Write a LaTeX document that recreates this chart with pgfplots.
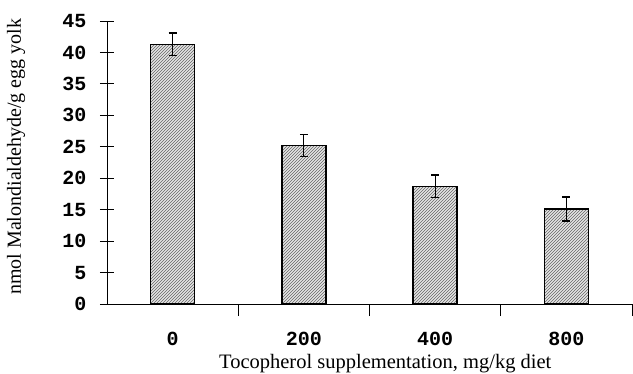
\documentclass[border=0pt]{standalone}
\usepackage{fontspec}
\setmainfont{Liberation Serif}
\newfontfamily\monofont{Liberation Mono}
\usepackage{pgfplots}
\pgfplotsset{compat=1.18}
\usetikzlibrary{patterns}
\begin{document}
\begin{tikzpicture}
\begin{axis}[
  scale only axis,
  width=525pt, height=283pt,
  xmin=-0.5, xmax=3.5,
  ymin=0, ymax=45,
  axis x line=bottom, axis y line=left,
  axis line style={-, line width=0.9pt},
  ytick={0,5,...,45},
  xtick={0,1,2,3},
  xticklabels={0,200,400,800},
  tick align=center,
  major tick length=14pt,
  x tick style={draw=none},
  y tick style={line width=0.8pt, black},
  extra x ticks={0.5,1.5,2.5,3.5},
  extra x tick labels={},
  extra x tick style={x tick style={draw=black, line width=0.8pt}, major tick length=12pt},
  /pgf/number format/assume math mode=true,
  ticklabel style={font=\fontsize{20}{20}\selectfont\monofont\bfseries},
  yticklabel style={xshift=-10pt},
  xticklabel style={yshift=-11pt},
  every axis y label/.style={at={(axis description cs:-0.173,0.52)}, rotate=90, anchor=center},
  every axis x label/.style={at={(axis description cs:0.53,-0.21)}, anchor=center},
  ylabel={\fontsize{20}{20}\selectfont nmol Malondialdehyde/g egg yolk},
  xlabel={\fontsize{20.5}{20}\selectfont Tocopherol supplementation, mg/kg diet},
  ybar, bar width=44pt,
  clip=false,
]
\addplot[draw=black, line width=1.3pt, fill=gray!20,
  postaction={pattern=north east lines, pattern color=black!60},
  error bars/.cd, y dir=both, y explicit,
  error bar style={line width=1.2pt, black},
  error mark options={rotate=90, mark size=4pt, line width=1.2pt}]
coordinates {
  (0,41.3) +- (0,1.8)
  (1,25.2) +- (0,1.8)
  (2,18.7) +- (0,1.8)
  (3,15.1) +- (0,1.9)
};
\end{axis}
\pgfresetboundingbox
\path[use as bounding box] (-107pt,-69pt) rectangle (526pt,304pt);
\end{tikzpicture}
\end{document}
